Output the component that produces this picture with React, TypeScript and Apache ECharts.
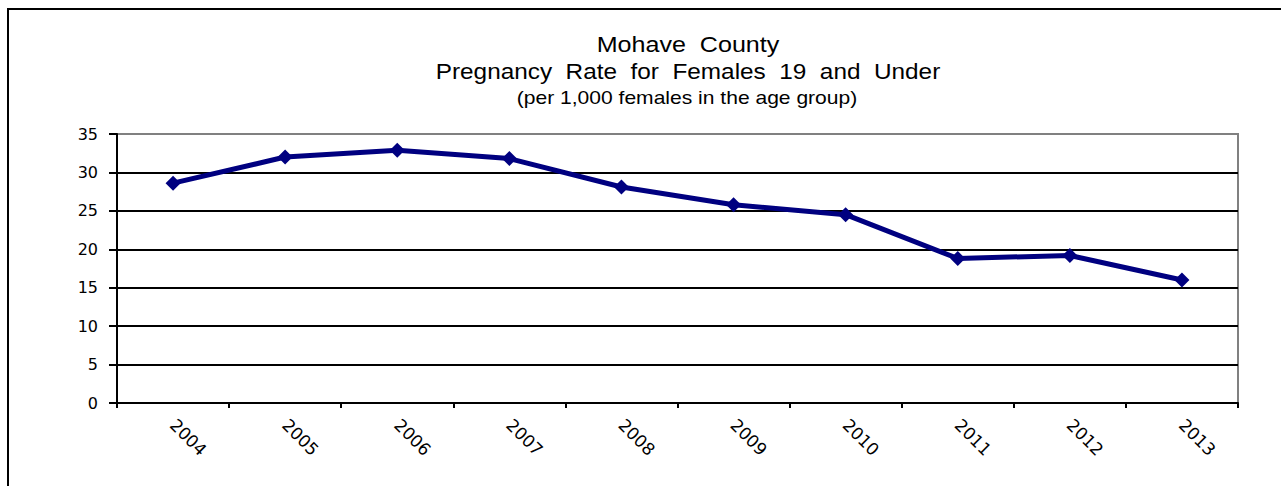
import React, { useEffect, useRef } from "react";
import * as echarts from "echarts";

const years = ["2004", "2005", "2006", "2007", "2008", "2009", "2010", "2011", "2012", "2013"];
const rates = [28.6, 32.0, 32.9, 31.8, 28.1, 25.8, 24.5, 18.8, 19.2, 16.0];
const titleLines = [
  "Mohave  County",
  "Pregnancy  Rate  for  Females  19  and  Under",
  "(per 1,000 females in the age group)",
];

const FONT = "'Liberation Sans', Arial, sans-serif";
const AXIS_FONT = "'DejaVu Sans', 'Liberation Sans', sans-serif";

export default function App() {
  const ref = useRef<HTMLDivElement>(null);
  useEffect(() => {
    document.body.style.margin = "0";
    const chart = echarts.init(ref.current!, null, { renderer: "svg" });
    const gridColors = ["#000", "#000", "#000", "#000", "#000", "#000", "#000", "#808080"];
    chart.setOption({
      animation: false,
      backgroundColor: "#fff",
      textStyle: { fontFamily: FONT },
      grid: {
        left: 117,
        top: 134,
        width: 1121,
        height: 269,
        show: true,
        borderColor: "#808080",
        borderWidth: 2,
        containLabel: false,
      },
      graphic: [
        {
          type: "rect",
          shape: { x: 8, y: 9, width: 1400, height: 600 },
          style: { fill: "none", stroke: "#000", lineWidth: 2 },
          silent: true,
        },
        {
          type: "text",
          x: 688,
          y: 45,
          scaleX: 1.14,
          style: { text: titleLines[0], font: `22px ${FONT}`, fill: "#000", align: "center", verticalAlign: "middle" },
        },
        {
          type: "text",
          x: 688,
          y: 71,
          scaleX: 1.107,
          style: { text: titleLines[1], font: `22px ${FONT}`, fill: "#000", align: "center", verticalAlign: "middle" },
        },
        {
          type: "text",
          x: 687,
          y: 98,
          scaleX: 1.17,
          style: { text: titleLines[2], font: `18px ${FONT}`, fill: "#000", align: "center", verticalAlign: "middle" },
        },
      ],
      xAxis: {
        type: "category",
        data: years,
        boundaryGap: true,
        axisLine: { show: true, lineStyle: { color: "#000", width: 2 } },
        axisTick: { show: true, length: 5, lineStyle: { color: "#000", width: 2 } },
        axisLabel: { rotate: -45, color: "#000", fontSize: 17, fontFamily: AXIS_FONT, margin: 19 },
        splitLine: { show: false },
      },
      yAxis: {
        type: "value",
        min: 0,
        max: 35,
        interval: 5,
        axisLine: { show: true, lineStyle: { color: "#000", width: 2 } },
        axisTick: { show: true, length: 8, lineStyle: { color: "#000", width: 2 } },
        axisLabel: { color: "#000", fontSize: 16, fontFamily: AXIS_FONT, margin: 19 },
        splitLine: { show: true, lineStyle: { color: gridColors, width: 2 } },
      },
      series: [
        {
          type: "line",
          data: rates,
          symbol: "diamond",
          symbolSize: 15,
          lineStyle: { color: "#000080", width: 5 },
          itemStyle: { color: "#000080" },
        },
      ],
    });
    return () => chart.dispose();
  }, []);
  return <div ref={ref} style={{ width: 1281, height: 486 }} />;
}
